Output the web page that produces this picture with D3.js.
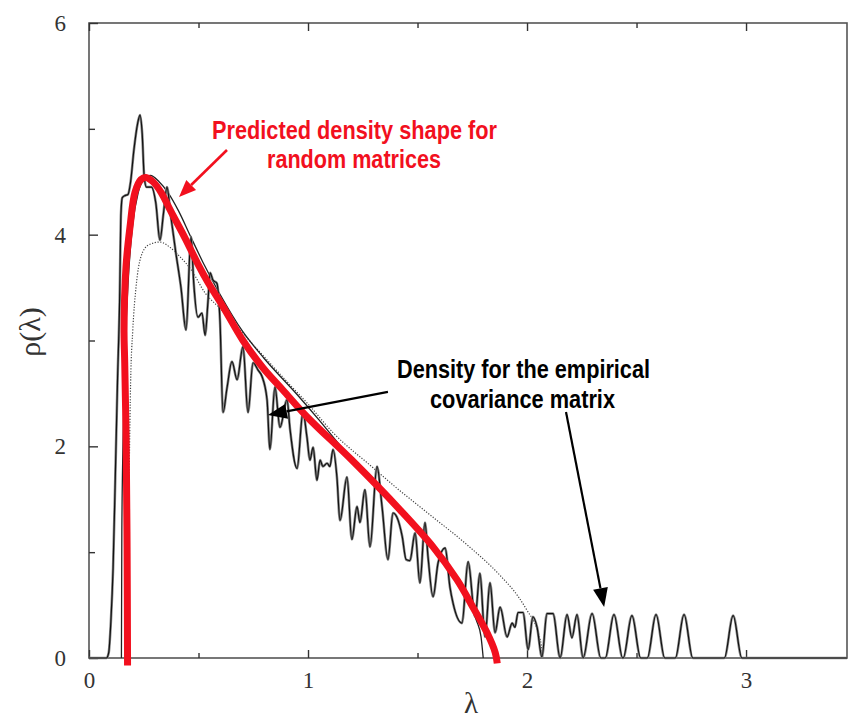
<!DOCTYPE html>
<html>
<head>
<meta charset="utf-8">
<script src="https://cdn.jsdelivr.net/npm/d3@7"></script>
<style>
  html, body { margin: 0; padding: 0; background: #fff; }
  svg { display: block; }
</style>
</head>
<body>
<svg id="chart" width="848" height="722"></svg>
<script>
// ---------- DATA ----------
const xTickValues = [0, 1, 2, 3];
const xMinorTicks = [0.5, 1.5, 2.5];
const yTickValues = [0, 2, 4, 6];
const yMinorTicks = [1, 3, 5];
const xTitle = "λ";
const yTitle = "ρ(λ)";

// empirical (noisy) eigenvalue density: [lambda, rho]
const empiricalLambda = [0.000,0.080,0.090,0.100,0.110,0.120,0.130,0.140,0.146,0.152,0.165,0.178,0.190,0.205,0.222,0.233,0.243,0.252,0.262,0.285,0.305,0.324,0.340,0.356,0.372,0.395,0.420,0.443,0.466,0.478,0.498,0.516,0.530,0.543,0.553,0.566,0.584,0.598,0.612,0.630,0.653,0.676,0.703,0.726,0.749,0.772,0.790,0.813,0.826,0.849,0.872,0.904,0.918,0.950,0.977,0.995,1.009,1.023,1.041,1.055,1.068,1.087,1.100,1.114,1.132,1.146,1.178,1.200,1.224,1.237,1.260,1.283,1.315,1.338,1.365,1.388,1.406,1.430,1.448,1.465,1.489,1.511,1.534,1.548,1.571,1.594,1.626,1.648,1.662,1.703,1.731,1.763,1.785,1.808,1.831,1.854,1.877,1.909,1.932,1.945,1.959,1.982,2.005,2.027,2.046,2.068,2.091,2.119,2.151,2.183,2.205,2.228,2.256,2.297,2.337,2.357,2.397,2.437,2.439,2.479,2.519,2.549,2.589,2.629,2.677,2.717,2.757,2.901,2.941,2.981,3.461];
const empiricalRho    = [0.00,0.00,0.05,0.35,0.85,1.70,2.60,3.40,4.20,4.35,4.37,4.38,4.50,4.80,5.05,5.13,4.95,4.55,4.45,4.45,4.30,3.95,4.20,4.45,4.20,3.85,3.50,3.10,3.98,3.55,3.22,3.26,3.05,3.36,3.64,3.57,3.54,3.19,2.32,2.55,2.80,2.63,2.94,2.32,2.79,2.72,2.66,2.44,1.97,2.56,2.18,2.44,2.16,1.79,2.32,2.09,1.87,1.99,1.68,1.87,1.81,1.84,1.81,1.97,1.71,1.30,1.71,1.12,1.43,1.28,1.59,1.05,1.81,1.43,0.93,1.37,1.33,1.15,0.93,0.92,1.18,0.71,1.28,0.955,0.58,0.90,1.04,0.67,0.52,0.33,0.91,0.39,0.80,0.20,0.71,0.24,0.48,0.20,0.33,0.29,0.43,0.43,0.08,0.39,0.29,0.01,0.42,0.42,0.00,0.41,0.19,0.41,0.00,0.42,0.00,0.00,0.41,0.00,0.00,0.40,0.00,0.00,0.41,0.00,0.00,0.41,0.00,0.00,0.40,0.00,0.00];

// best-fit smooth density (thin solid black)
const fitLambda = [0.148,0.150,0.155,0.165,0.180,0.200,0.225,0.250,0.280,0.320,0.360,0.410,0.460,0.520,0.600,0.700,0.800,0.950,1.050,1.150,1.250,1.350,1.450,1.550,1.620,1.680,1.730,1.770,1.790,1.800];
const fitRho    = [0.00,1.20,2.00,2.90,3.60,4.10,4.40,4.52,4.56,4.50,4.40,4.22,4.00,3.74,3.43,3.09,2.83,2.49,2.25,2.00,1.77,1.54,1.32,1.08,0.90,0.72,0.54,0.35,0.20,0.00];

// theoretical density (dotted)
const dottedLambda = [0.178,0.180,0.184,0.190,0.200,0.215,0.237,0.270,0.324,0.370,0.416,0.466,0.530,0.600,0.750,0.900,1.000,1.114,1.290,1.420,1.571,1.726,1.877,1.960,2.000,2.046,2.065,2.073];
const dottedRho    = [0.00,1.00,1.80,2.60,3.10,3.51,3.79,3.90,3.93,3.88,3.79,3.67,3.45,3.30,2.96,2.62,2.40,2.13,1.81,1.58,1.33,1.07,0.78,0.58,0.45,0.27,0.12,0.00];

// hand-drawn red predicted density
const redLambda = [0.176,0.174,0.170,0.163,0.160,0.169,0.187,0.210,0.237,0.260,0.292,0.329,0.374,0.438,0.498,0.543,0.612,0.703,0.795,0.886,0.995,1.200,1.420,1.571,1.680,1.753,1.817,1.855,1.864];
const redRho    = [-0.07,1.00,2.00,2.80,3.10,3.70,4.07,4.40,4.52,4.54,4.50,4.40,4.22,3.97,3.72,3.55,3.32,3.00,2.74,2.53,2.28,1.87,1.40,1.05,0.74,0.48,0.24,0.05,-0.05];

// annotations
const redNoteLines = ["Predicted density shape for", "random matrices"];
const blackNoteLines = ["Density for the empirical", "covariance matrix"];

// ---------- LAYOUT ----------
const svg = d3.select("#chart");
const mLeft = 89, mRight = 847, mTop = 23, mBottom = 658;
const x = d3.scaleLinear().domain([0, 3.461]).range([mLeft, mRight]);
const y = d3.scaleLinear().domain([0, 6]).range([mBottom, mTop]);

const zip = (a, b) => a.map((v, i) => [v, b[i]]);
const serif = "'Liberation Serif', 'Times New Roman', 'DejaVu Serif', serif";

// frame
svg.append("rect")
  .attr("x", mLeft).attr("y", mTop)
  .attr("width", mRight - mLeft).attr("height", mBottom - mTop)
  .attr("fill", "none").attr("stroke", "#555").attr("stroke-width", 1.6);

// axes (ticks inward)
const axisStyle = g => {
  g.attr("font-family", null);
  g.select(".domain").remove();
  g.selectAll(".tick line").attr("stroke", "#333").attr("stroke-width", 1.4);
  g.selectAll(".tick text").style("font-family", serif)
    .style("font-size", "23px").attr("fill", "#333");
};
svg.append("g").attr("transform", `translate(0,${mBottom})`)
  .call(d3.axisBottom(x).tickValues(xTickValues).tickSize(-8).tickPadding(14).tickFormat(d3.format("d")))
  .call(axisStyle);
svg.append("g").attr("transform", `translate(0,${mBottom})`)
  .call(d3.axisBottom(x).tickValues(xMinorTicks).tickSize(-5).tickFormat(""))
  .call(axisStyle);
svg.append("g").attr("transform", `translate(0,${mTop})`)
  .call(d3.axisTop(x).tickValues(xTickValues).tickSize(-8).tickFormat(""))
  .call(axisStyle);
svg.append("g").attr("transform", `translate(0,${mTop})`)
  .call(d3.axisTop(x).tickValues(xMinorTicks).tickSize(-5).tickFormat(""))
  .call(axisStyle);
svg.append("g").attr("transform", `translate(${mLeft},0)`)
  .call(d3.axisLeft(y).tickValues(yTickValues).tickSize(-9).tickPadding(23).tickFormat(d3.format("d")))
  .call(axisStyle);
svg.append("g").attr("transform", `translate(${mLeft},0)`)
  .call(d3.axisLeft(y).tickValues(yMinorTicks).tickSize(-6).tickFormat(""))
  .call(axisStyle);

// axis titles
svg.append("text").attr("x", 471).attr("y", 713)
  .attr("text-anchor", "middle")
  .style("font-family", serif)
  .style("font-size", "29px").attr("fill", "#333").text(xTitle);
svg.append("text")
  .attr("transform", "translate(40,332) rotate(-90)")
  .attr("text-anchor", "middle")
  .style("font-family", serif)
  .style("font-size", "30px").attr("fill", "#333").text(yTitle);

// curves
const lineMono = d3.line().x(d => x(d[0])).y(d => y(d[1])).curve(d3.curveMonotoneX);
const lineCR = d3.line().x(d => x(d[0])).y(d => y(d[1])).curve(d3.curveCatmullRom.alpha(0.5));

svg.append("path").attr("d", lineMono(zip(dottedLambda, dottedRho)))
  .attr("fill", "none").attr("stroke", "#444").attr("stroke-width", 1.2)
  .attr("stroke-dasharray", "1.2,1.6");

svg.append("path").attr("d", lineMono(zip(fitLambda, fitRho)))
  .attr("fill", "none").attr("stroke", "#222").attr("stroke-width", 1.3);

svg.append("path").attr("d", lineMono(zip(empiricalLambda, empiricalRho)))
  .attr("fill", "none").attr("stroke", "#888").attr("stroke-width", 2.6)
  .attr("stroke-linejoin", "round");
svg.append("path").attr("d", lineMono(zip(empiricalLambda, empiricalRho)))
  .attr("fill", "none").attr("stroke", "#111").attr("stroke-width", 1.2)
  .attr("stroke-linejoin", "round");

svg.append("path").attr("d", lineCR(zip(redLambda, redRho)))
  .attr("fill", "none").attr("stroke", "#f2101e").attr("stroke-width", 7)
  .attr("stroke-linejoin", "round");

// arrows
function arrow(from, to, color, width, headLen, headW) {
  const x1 = x(from[0]), y1 = y(from[1]), x2 = x(to[0]), y2 = y(to[1]);
  const a = Math.atan2(y2 - y1, x2 - x1);
  const bx = x2 - headLen * Math.cos(a), by = y2 - headLen * Math.sin(a);
  svg.append("line").attr("x1", x1).attr("y1", y1).attr("x2", bx).attr("y2", by)
    .attr("stroke", color).attr("stroke-width", width);
  const px = -Math.sin(a) * headW / 2, py = Math.cos(a) * headW / 2;
  svg.append("path")
    .attr("d", `M${x2},${y2}L${bx + px},${by + py}L${bx - px},${by - py}Z`)
    .attr("fill", color);
}
arrow([0.630, 4.80], [0.411, 4.357], "#f2101e", 2.6, 17, 14);
arrow([1.365, 2.514], [0.817, 2.297], "#000", 2.2, 19, 15);
arrow([2.178, 2.325], [2.352, 0.482], "#000", 2.2, 19, 15);

// annotation text
const noteFont = "'Liberation Sans Narrow', 'Arial Narrow', 'Liberation Sans', Arial, sans-serif";
const redLens = [285, 174], blackLens = [253, 185];
redNoteLines.forEach((t, i) => {
  svg.append("text").attr("x", [212, 267][i]).attr("y", [139, 168][i])
    .style("font-family", noteFont).attr("font-weight", "bold").style("font-size", "25px")
    .attr("fill", "#f2101e")
    .attr("textLength", redLens[i]).attr("lengthAdjust", "spacingAndGlyphs")
    .text(t);
});
blackNoteLines.forEach((t, i) => {
  svg.append("text").attr("x", [397, 430][i]).attr("y", [378, 408][i])
    .style("font-family", noteFont).attr("font-weight", "bold").style("font-size", "25px")
    .attr("fill", "#000")
    .attr("textLength", blackLens[i]).attr("lengthAdjust", "spacingAndGlyphs")
    .text(t);
});
</script>
</body>
</html>
